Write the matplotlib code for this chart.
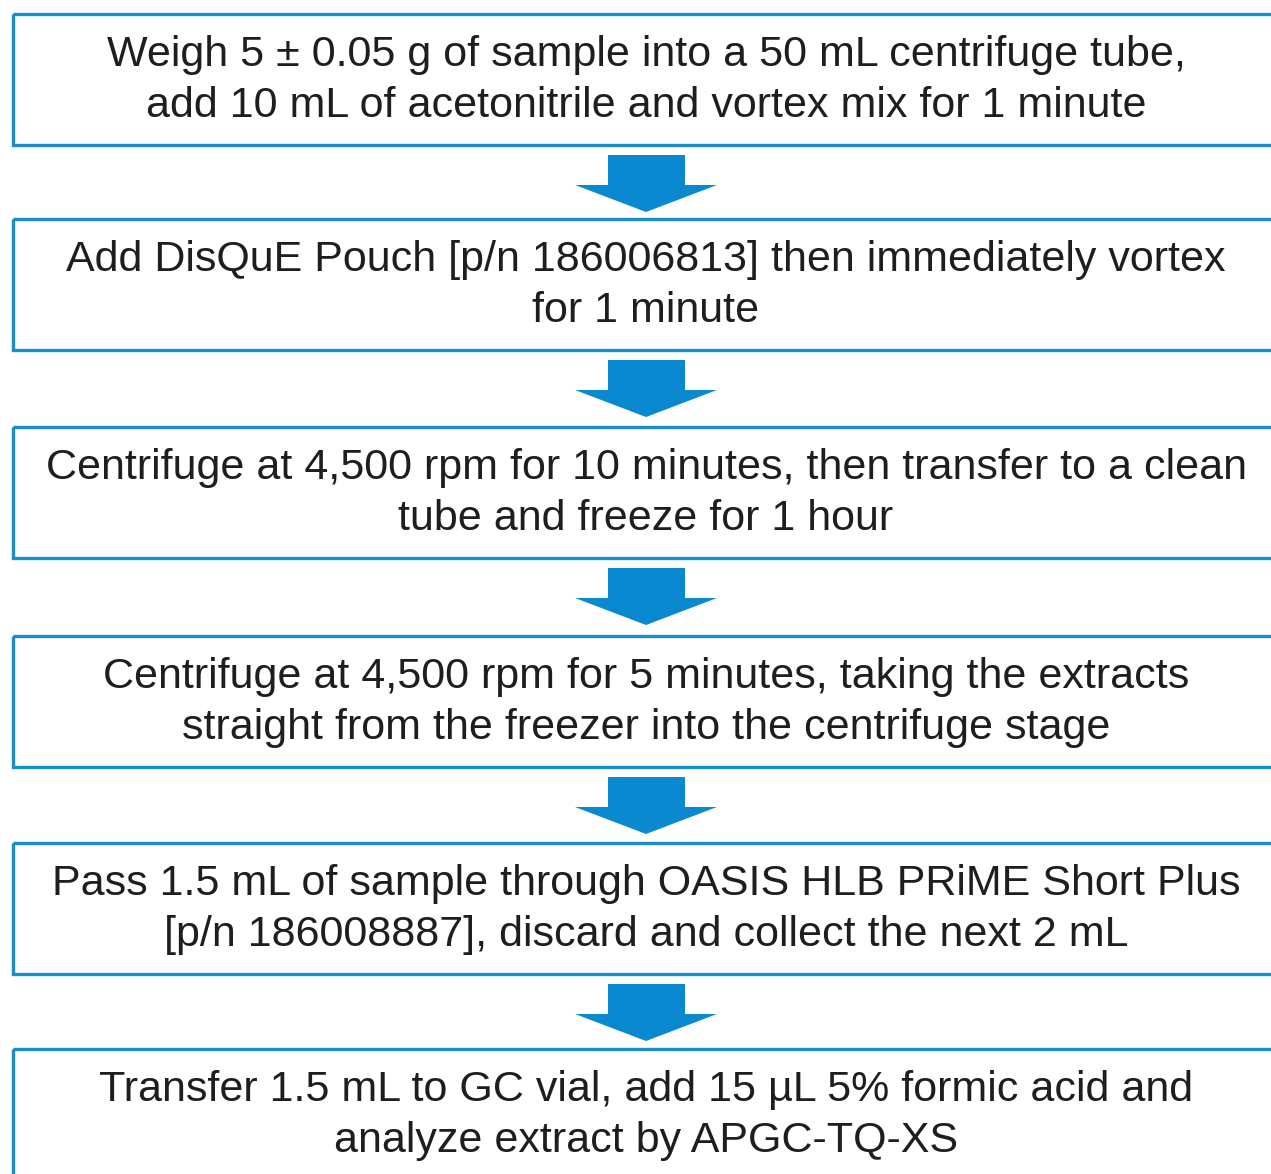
import matplotlib.pyplot as plt
from matplotlib.patches import Rectangle, Polygon

# testo dei passaggi (una riga per elemento)
steps = [
    ["Weigh 5 \u00b1 0.05 g of sample into a 50 mL centrifuge tube,",
     "add 10 mL of acetonitrile and vortex mix for 1 minute"],
    ["Add DisQuE Pouch [p/n 186006813] then immediately vortex",
     "for 1 minute"],
    ["Centrifuge at 4,500 rpm for 10 minutes, then transfer to a clean",
     "tube and freeze for 1 hour"],
    ["Centrifuge at 4,500 rpm for 5 minutes, taking the extracts",
     "straight from the freezer into the centrifuge stage"],
    ["Pass 1.5 mL of sample through OASIS HLB PRiME Short Plus",
     "[p/n 186008887], discard and collect the next 2 mL"],
    ["Transfer 1.5 mL to GC vial, add 15 \u00b5L 5% formic acid and",
     "analyze extract by APGC-TQ-XS"],
]

# layout in pixel
W, H = 1271, 1174
box_top = [14, 219, 427, 636, 843, 1049]
box_h = 131
x_left = 13
x_right = 1280          # il bordo destro esce dall'immagine
x_c = 646
line_gap = 51

edge_col = "#1a8cc9"
arrow_col = "#0a88d0"

fig = plt.figure(figsize=(W / 100, H / 100), dpi=100)
ax = fig.add_axes([0, 0, 1, 1])
ax.set_xlim(0, W)
ax.set_ylim(H, 0)
ax.axis("off")

for i, lines in enumerate(steps):
    top = box_top[i]
    ax.add_patch(Rectangle((x_left, top), x_right - x_left, box_h,
                           fill=False, edgecolor=edge_col, linewidth=2.4))
    yc = top + box_h / 2
    n = len(lines)
    for j, s in enumerate(lines):
        y = yc + (j - (n - 1) / 2) * line_gap
        ax.text(x_c, y + 1, s, ha="center", va="center", fontsize=31,
                family="Liberation Sans", color="#1e1e1e")

    # freccia verso il passaggio successivo
    if i < len(steps) - 1:
        a0 = top + box_h + 10
        pts = [(x_c - 38, a0), (x_c + 39, a0), (x_c + 39, a0 + 30),
               (x_c + 71, a0 + 30), (x_c, a0 + 57), (x_c - 71, a0 + 30),
               (x_c - 38, a0 + 30)]
        ax.add_patch(Polygon(pts, closed=True, facecolor=arrow_col,
                             edgecolor="none"))

fig.savefig("out.png", dpi=100, facecolor="white")
